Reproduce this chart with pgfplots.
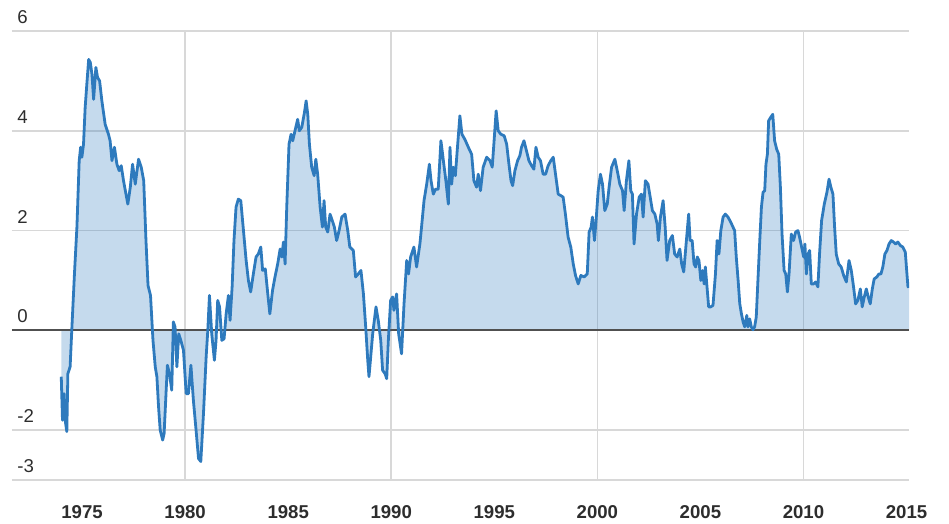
\documentclass[border=0pt]{standalone}
\usepackage{fontspec}
\setmainfont{Liberation Sans}
\usepackage{pgfplots}
\usepackage{pgfplotstable}
\pgfplotsset{compat=1.18}

\definecolor{lineblue}{RGB}{46,122,189}
\definecolor{gridgray}{RGB}{216,216,216}
\definecolor{zerogray}{RGB}{80,80,80}
\definecolor{labelgray}{RGB}{45,45,45}

% year, value
\pgfplotstableread{
year value
1973.99 -0.93
1974.05 -1.80
1974.13 -1.27
1974.18 -1.80
1974.26 -2.03
1974.31 -0.87
1974.42 -0.73
1974.50 0.00
1974.63 1.13
1974.75 2.07
1974.86 3.40
1974.93 3.67
1974.99 3.47
1975.07 3.73
1975.15 4.47
1975.23 4.93
1975.32 5.43
1975.40 5.37
1975.48 5.13
1975.56 4.63
1975.67 5.27
1975.75 5.07
1975.85 5.00
1975.96 4.60
1976.12 4.13
1976.28 3.93
1976.36 3.80
1976.45 3.40
1976.57 3.67
1976.69 3.33
1976.80 3.20
1976.90 3.30
1977.01 3.00
1977.13 2.73
1977.22 2.53
1977.34 2.87
1977.45 3.33
1977.58 2.93
1977.74 3.43
1977.87 3.27
1977.99 3.00
1978.10 1.80
1978.20 0.90
1978.32 0.70
1978.44 -0.20
1978.55 -0.73
1978.63 -0.93
1978.71 -1.53
1978.79 -2.00
1978.91 -2.20
1978.98 -2.07
1979.08 -1.20
1979.14 -0.70
1979.24 -0.87
1979.35 -1.20
1979.43 0.17
1979.51 0.07
1979.60 -0.73
1979.69 -0.07
1979.79 -0.20
1979.92 -0.40
1980.05 -1.27
1980.16 -1.27
1980.28 -0.70
1980.40 -1.40
1980.53 -2.00
1980.65 -2.57
1980.76 -2.63
1980.89 -1.67
1981.02 -0.53
1981.10 0.00
1981.18 0.70
1981.29 -0.07
1981.42 -0.60
1981.50 -0.20
1981.58 0.60
1981.67 0.47
1981.78 -0.20
1981.89 -0.17
1981.99 0.33
1982.10 0.70
1982.18 0.20
1982.28 0.87
1982.37 1.80
1982.47 2.47
1982.58 2.63
1982.70 2.60
1982.83 2.00
1982.96 1.40
1983.07 1.00
1983.18 0.77
1983.31 1.13
1983.44 1.47
1983.55 1.53
1983.67 1.67
1983.76 1.20
1983.89 1.23
1984.01 0.73
1984.11 0.33
1984.24 0.80
1984.36 1.07
1984.49 1.33
1984.61 1.63
1984.69 1.47
1984.77 1.77
1984.85 1.33
1984.93 2.47
1985.04 3.73
1985.14 3.93
1985.22 3.80
1985.33 4.00
1985.46 4.23
1985.54 4.00
1985.66 4.07
1985.79 4.37
1985.87 4.60
1985.95 4.33
1986.03 3.73
1986.14 3.27
1986.26 3.10
1986.34 3.43
1986.43 3.13
1986.55 2.47
1986.66 2.07
1986.74 2.60
1986.82 2.07
1986.92 1.97
1987.03 2.33
1987.14 2.20
1987.24 2.07
1987.35 1.80
1987.47 2.00
1987.60 2.27
1987.76 2.33
1987.89 2.00
1987.99 1.67
1988.16 1.60
1988.27 1.07
1988.40 1.13
1988.53 1.20
1988.65 0.73
1988.76 0.07
1988.86 -0.60
1988.92 -0.93
1989.10 -0.07
1989.26 0.47
1989.37 0.20
1989.49 -0.20
1989.58 -0.80
1989.70 -0.87
1989.78 -0.97
1989.86 -0.20
1989.97 0.60
1990.07 0.67
1990.13 0.40
1990.26 0.73
1990.36 -0.07
1990.50 -0.47
1990.62 0.53
1990.75 1.40
1990.84 1.13
1990.94 1.47
1991.10 1.67
1991.23 1.27
1991.39 1.73
1991.47 2.07
1991.59 2.60
1991.72 2.93
1991.85 3.33
1991.93 3.00
1992.04 2.73
1992.15 2.83
1992.28 2.83
1992.41 3.80
1992.53 3.40
1992.65 3.00
1992.77 2.53
1992.85 3.67
1992.93 2.93
1993.01 3.27
1993.11 3.10
1993.20 3.60
1993.33 4.30
1993.43 3.93
1993.57 3.83
1993.74 3.67
1993.90 3.53
1994.01 3.00
1994.14 2.87
1994.22 3.13
1994.33 2.80
1994.46 3.27
1994.63 3.47
1994.79 3.40
1994.90 3.27
1994.99 3.80
1995.09 4.40
1995.19 4.00
1995.32 3.93
1995.48 3.90
1995.60 3.73
1995.71 3.33
1995.81 3.00
1995.89 2.90
1996.00 3.20
1996.13 3.40
1996.24 3.50
1996.32 3.67
1996.44 3.80
1996.56 3.60
1996.68 3.40
1996.81 3.30
1996.92 3.23
1997.02 3.67
1997.13 3.47
1997.24 3.40
1997.37 3.13
1997.49 3.13
1997.61 3.30
1997.74 3.40
1997.86 3.47
1997.97 3.13
1998.10 2.73
1998.23 2.70
1998.34 2.67
1998.45 2.33
1998.58 1.87
1998.71 1.67
1998.83 1.33
1998.94 1.10
1999.07 0.93
1999.20 1.10
1999.36 1.07
1999.51 1.13
1999.60 1.97
1999.70 2.07
1999.76 2.27
1999.86 1.80
1999.96 2.33
2000.04 2.80
2000.15 3.13
2000.25 2.93
2000.36 2.40
2000.48 2.53
2000.57 2.87
2000.69 3.27
2000.85 3.43
2000.98 3.17
2001.09 2.93
2001.22 2.80
2001.30 2.40
2001.41 3.00
2001.53 3.40
2001.62 2.80
2001.70 2.73
2001.78 1.73
2001.90 2.33
2002.03 2.67
2002.14 2.73
2002.22 2.27
2002.33 3.00
2002.46 2.93
2002.54 2.73
2002.67 2.40
2002.79 2.33
2002.90 2.13
2002.96 1.80
2003.06 2.27
2003.19 2.60
2003.29 2.07
2003.38 1.40
2003.51 1.80
2003.64 1.90
2003.75 1.53
2003.87 1.47
2004.00 1.63
2004.09 1.33
2004.19 1.17
2004.32 1.80
2004.43 2.33
2004.50 1.80
2004.60 1.80
2004.69 1.33
2004.77 1.27
2004.85 1.47
2004.93 1.40
2005.02 1.00
2005.11 1.20
2005.18 0.93
2005.24 1.27
2005.32 0.87
2005.40 0.47
2005.50 0.47
2005.61 0.50
2005.73 1.13
2005.81 1.80
2005.90 1.53
2005.99 2.00
2006.10 2.27
2006.21 2.33
2006.34 2.27
2006.47 2.17
2006.58 2.07
2006.66 2.00
2006.74 1.47
2006.83 1.00
2006.91 0.53
2006.99 0.33
2007.07 0.17
2007.15 0.07
2007.25 0.30
2007.31 0.07
2007.39 0.23
2007.47 0.07
2007.55 0.01
2007.63 0.07
2007.71 0.27
2007.79 1.00
2007.88 1.80
2007.96 2.47
2008.04 2.77
2008.12 2.80
2008.18 3.33
2008.25 3.53
2008.31 4.20
2008.41 4.27
2008.51 4.33
2008.60 3.80
2008.70 3.63
2008.80 3.53
2008.88 2.87
2008.96 1.93
2009.06 1.20
2009.14 1.13
2009.22 0.77
2009.30 1.13
2009.41 1.93
2009.52 1.80
2009.62 1.97
2009.73 2.00
2009.81 1.87
2009.91 1.67
2010.01 1.47
2010.07 1.73
2010.14 1.13
2010.22 1.53
2010.30 1.60
2010.38 0.93
2010.49 0.93
2010.59 0.97
2010.70 0.87
2010.78 1.53
2010.88 2.20
2011.01 2.53
2011.14 2.77
2011.24 3.03
2011.33 2.87
2011.43 2.73
2011.51 2.07
2011.59 1.53
2011.71 1.33
2011.83 1.27
2011.95 1.10
2012.08 0.97
2012.21 1.40
2012.32 1.20
2012.43 0.87
2012.53 0.53
2012.64 0.60
2012.76 0.83
2012.85 0.47
2012.95 0.67
2013.05 0.83
2013.14 0.67
2013.24 0.53
2013.34 0.83
2013.43 1.03
2013.56 1.07
2013.66 1.13
2013.76 1.13
2013.85 1.27
2013.95 1.53
2014.05 1.60
2014.15 1.73
2014.26 1.80
2014.37 1.77
2014.47 1.73
2014.58 1.77
2014.70 1.70
2014.82 1.67
2014.94 1.57
2015.02 1.13
2015.07 0.87
2015.12 0.90
}\gapdata

\begin{document}
\begin{tikzpicture}
\begin{axis}[
  scale only axis,
  width=448.5pt, height=224.5pt,
  xmin=1971.6, xmax=2015.12,
  ymin=-3, ymax=6,
  axis line style={draw=none},
  major tick length=0pt,
  xtick={1975,1980,1985,1990,1995,2000,2005,2010,2015},
  xticklabels={1975,1980,1985,1990,1995,2000,2005,2010,2015},
  xticklabel style={anchor=north, inner sep=0pt, yshift=-12.5pt,
    font=\fontsize{9.3}{11}\selectfont\bfseries, text=labelgray},
  extra x ticks={1980,1990,2000,2010},
  extra x tick labels={},
  extra x tick style={grid=major},
  ytick={-3,-2,0,2,4,6},
  yticklabels={-3,-2,0,2,4,6},
  yticklabel style={anchor=south west, inner sep=0pt, xshift=2.5pt, yshift=3.5pt,
    font=\fontsize{9.3}{11}\selectfont, text=labelgray},
  ymajorgrids=true,
  grid style={gridgray, line width=0.75pt},
]
  \addplot[draw=none, fill=lineblue, fill opacity=0.28] table[x=year, y=value] {\gapdata} \closedcycle;
  \addplot[zerogray, line width=1pt] coordinates {(1971.6,0) (2015.12,0)};
  \addplot[lineblue, line width=1.4pt, line join=round] table[x=year, y=value] {\gapdata};
\end{axis}
\pgfresetboundingbox
\path[use as bounding box] (-6pt,-22pt) rectangle (468.5pt,240pt);
\end{tikzpicture}
\end{document}
